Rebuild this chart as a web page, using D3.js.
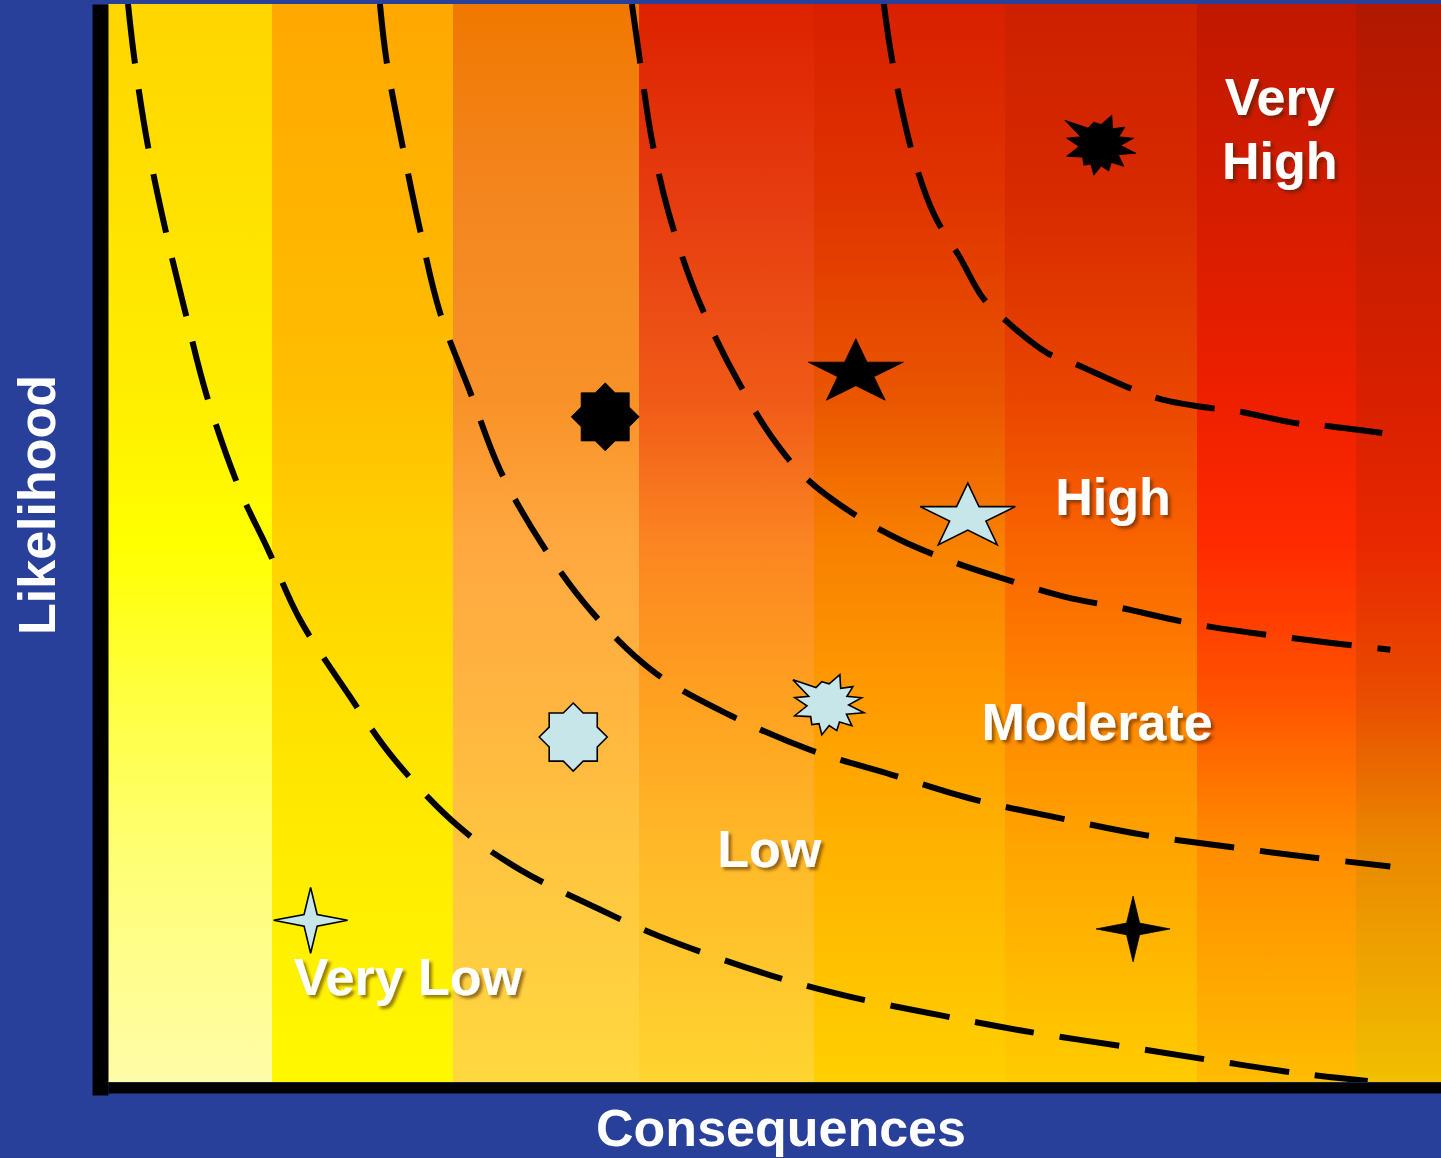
<!DOCTYPE html>
<html>
<head>
<meta charset="utf-8">
<script src="https://cdn.jsdelivr.net/npm/d3@7"></script>
<style>
  html, body { margin: 0; padding: 0; background: #29409a; }
  svg { display: block; }
</style>
</head>
<body>
<svg id="chart" width="1441" height="1158"></svg>
<script>
// ---- Data (consequence and likelihood both on a 0–100 scale) ----

// Consequence bands, each shaded with its own vertical gradient
const bandEdges = [0, 12.3, 25.9, 39.8, 53.0, 67.3, 81.7, 93.6, 100];

// Iso-risk boundaries as [consequence, likelihood] pairs
const boundaryVeryLowLow = [
  [1.5, 100], [2.0, 94.7], [3.0, 86.8], [4.3, 79.1], [5.8, 71.4], [7.4, 63.7],
  [9.9, 54.9], [12.0, 49.4], [14.4, 42.9], [17.8, 36.4], [21.5, 29.9], [26.4, 23.6],
  [30.9, 19.7], [36.9, 16.0], [41.4, 13.5], [49.7, 9.9], [55.7, 7.9], [62.4, 6.2],
  [68.4, 4.8], [76.7, 3.2], [83.4, 1.9], [89.4, 0.8], [94.5, 0.1]
];
const boundaryLowModerate = [
  [20.4, 100], [20.9, 94.7], [22.1, 86.8], [23.4, 79.1], [24.9, 71.4], [27.2, 63.9],
  [29.4, 56.8], [32.6, 49.8], [36.3, 43.6], [41.0, 38.0], [46.7, 34.0], [52.7, 30.8],
  [58.8, 28.5], [65.0, 26.2], [71.3, 24.5], [77.8, 22.9], [84.2, 21.8], [90.5, 20.8],
  [96.2, 20.0]
];
const boundaryModerateHigh = [
  [39.3, 100], [39.9, 94.8], [40.8, 87.4], [42.0, 80.9], [43.7, 74.4], [45.4, 69.5],
  [47.4, 64.7], [49.7, 60.0], [52.3, 56.1], [55.8, 52.8], [59.4, 50.3], [63.5, 48.2],
  [66.9, 46.8], [71.8, 45.0], [75.9, 44.0], [81.9, 42.4], [88.7, 41.2], [96.2, 40.1]
];
const boundaryHighVeryHigh = [
  [58.2, 100], [58.7, 95.7], [59.4, 91.1], [60.5, 85.5], [62.0, 80.4], [63.9, 76.5],
  [65.6, 72.8], [67.1, 70.9], [70.5, 67.6], [72.4, 66.7], [76.4, 64.5], [79.1, 63.3],
  [82.8, 62.5], [84.8, 62.2], [89.2, 61.1], [91.1, 60.9], [95.6, 60.2]
];

// Risk zone names and where they sit
const zoneNames = ["Very Low", "Low", "Moderate", "High", "Very|High"];
const zoneConsequence = [22.5, 49.6, 74.2, 75.4, 87.9];
const zoneLikelihood = [8.1, 19.9, 31.7, 52.6, 89.7];

// Individual risks
const riskShape = ["star4", "star4", "star8", "star8", "star5", "star5", "burst", "burst"];
const riskTone = ["light", "dark", "light", "dark", "dark", "light", "light", "dark"];
const riskConsequence = [15.2, 76.9, 34.9, 37.3, 56.1, 64.5, 54.0, 74.4];
const riskLikelihood = [15.0, 14.2, 32.0, 61.7, 65.8, 52.4, 35.0, 86.9];

// Axis titles
const xTitle = "Consequences";
const yTitle = "Likelihood";

// ---- Styling ----
const bandPalette = [
  ["#ffd500", "#ffe100", "#ffee00", "#ffff00", "#ffff40", "#ffff72", "#fffca8"],
  ["#ffa800", "#ffb300", "#ffbf00", "#ffd200", "#ffe000", "#ffeb00", "#fff800"],
  ["#f07800", "#f48620", "#f89228", "#ffa840", "#ffb440", "#ffc440", "#ffd840"],
  ["#dd2200", "#e63c10", "#f05a18", "#fb8522", "#ffa020", "#ffb828", "#ffd430"],
  ["#d82000", "#e03400", "#ea5600", "#f88000", "#ff9a00", "#ffb200", "#ffd000"],
  ["#cc2000", "#d82a00", "#ea4600", "#f96400", "#ff8400", "#ffa400", "#ffcc00"],
  ["#c01800", "#d41c00", "#ee2000", "#ff2a00", "#ff5200", "#ff8c00", "#ffbc00"],
  ["#b01800", "#c41c00", "#d82000", "#e82800", "#e84c00", "#ea8800", "#f0c000"]
];
const bandOffsets = [0, 0.18, 0.367, 0.5, 0.64, 0.78, 1];
const lightFill = "#c6e6ea";
const fontFamily = "'Liberation Sans', Arial, Helvetica, sans-serif";

// ---- Scales ----
const svg = d3.select("#chart");
const x = d3.scaleLinear().domain([0, 100]).range([108, 1441]);
const y = d3.scaleLinear().domain([0, 100]).range([1082, 4]);

const defs = svg.append("defs");

// One gradient per consequence band
bandPalette.forEach((cols, i) => {
  const g = defs.append("linearGradient")
    .attr("id", "band" + i)
    .attr("x1", 0).attr("y1", 0).attr("x2", 0).attr("y2", 1);
  cols.forEach((c, k) => g.append("stop").attr("offset", bandOffsets[k]).attr("stop-color", c));
});

// Soft drop shadow behind the zone names
const shadow = defs.append("filter").attr("id", "shadow")
  .attr("x", "-10%").attr("y", "-10%").attr("width", "130%").attr("height", "140%");
shadow.append("feDropShadow")
  .attr("dx", 3).attr("dy", 3).attr("stdDeviation", 1.6)
  .attr("flood-color", "#4a1e00").attr("flood-opacity", 0.55);

defs.append("clipPath").attr("id", "plotClip")
  .append("rect")
  .attr("x", x(0)).attr("y", y(100))
  .attr("width", x(100) - x(0)).attr("height", y(0) - y(100));

// ---- Bands ----
const bands = d3.pairs(bandEdges);
svg.append("g").selectAll("rect")
  .data(bands)
  .join("rect")
  .attr("x", d => x(d[0]))
  .attr("y", y(100))
  .attr("width", d => x(d[1]) - x(d[0]))
  .attr("height", y(0) - y(100))
  .attr("fill", (d, i) => `url(#band${i})`)
  .attr("shape-rendering", "crispEdges");

// ---- Iso-risk boundaries ----
const line = d3.line()
  .x(d => x(d[0]))
  .y(d => y(d[1]))
  .curve(d3.curveCatmullRom.alpha(0.5));

svg.append("g")
  .attr("clip-path", "url(#plotClip)")
  .selectAll("path")
  .data([boundaryVeryLowLow, boundaryLowModerate, boundaryModerateHigh, boundaryHighVeryHigh])
  .join("path")
  .attr("d", line)
  .attr("fill", "none")
  .attr("stroke", "#000")
  .attr("stroke-width", 6)
  .attr("stroke-dasharray", "60 26");

// ---- Risk symbols ----
function starType(points, inner, aspect) {
  return {
    draw(ctx, size) {
      const r = Math.sqrt(size);
      for (let i = 0; i < 2 * points; i++) {
        const a = -Math.PI / 2 + i * Math.PI / points;
        const rr = i % 2 ? r * inner : r;
        const px = rr * Math.cos(a), py = rr * Math.sin(a) * aspect;
        if (i) ctx.lineTo(px, py); else ctx.moveTo(px, py);
      }
      ctx.closePath();
    }
  };
}

// Explosion outline: spike angles (degrees) and relative lengths
const burstSpikes = [
  [215.5, 1.19], [255.4, 0.66], [291.8, 0.90], [324.2, 0.86], [348.4, 0.96], [372.5, 1.03],
  [401.2, 0.89], [430.9, 0.76], [461.3, 0.85], [488.7, 0.71], [521.6, 0.97], [552.0, 0.94]
];
const burstType = {
  draw(ctx, size) {
    const r = Math.sqrt(size);
    const rad = deg => deg * Math.PI / 180;
    burstSpikes.forEach((s, i) => {
      const a = rad(s[0]);
      const px = r * s[1] * Math.cos(a), py = r * s[1] * Math.sin(a);
      if (i) ctx.lineTo(px, py); else ctx.moveTo(px, py);
      const next = burstSpikes[(i + 1) % burstSpikes.length];
      let na = next[0];
      if (i === burstSpikes.length - 1) na += 360;
      const ma = rad((s[0] + na) / 2);
      ctx.lineTo(r * 0.58 * Math.cos(ma), r * 0.58 * Math.sin(ma));
    });
    ctx.closePath();
  }
};

const symbolDefs = {
  star4: { type: starType(4, 0.25, 0.89), r: 37 },
  star5: { type: starType(5, 0.382, 0.68), r: 50 },
  star8: { type: starType(8, 0.765, 1), r: 34 },
  burst: { type: burstType, r: 36 }
};

const risks = riskShape.map((s, i) => ({
  shape: s, tone: riskTone[i], c: riskConsequence[i], l: riskLikelihood[i]
}));

svg.append("g").selectAll("path")
  .data(risks)
  .join("path")
  .attr("transform", d => `translate(${x(d.c)},${y(d.l)})`)
  .attr("d", d => d3.symbol().type(symbolDefs[d.shape].type).size(symbolDefs[d.shape].r ** 2)())
  .attr("fill", d => d.tone === "light" ? lightFill : "#000")
  .attr("stroke", "#000")
  .attr("stroke-width", d => d.tone === "light" ? 1.6 : 0.8)
  .attr("stroke-linejoin", "miter");

// ---- Zone names ----
const zones = zoneNames.map((n, i) => ({ name: n, c: zoneConsequence[i], l: zoneLikelihood[i] }));
const zoneText = svg.append("g")
  .attr("font-family", fontFamily)
  .attr("font-weight", "bold")
  .attr("font-size", 52)
  .attr("fill", "#fff")
  .attr("text-anchor", "middle")
  .attr("filter", "url(#shadow)")
  .selectAll("text")
  .data(zones)
  .join("text")
  .attr("x", d => x(d.c))
  .attr("y", d => y(d.l));
zoneText.selectAll("tspan")
  .data(d => d.name.split("|").map(t => ({ t, c: d.c })))
  .join("tspan")
  .attr("x", d => x(d.c))
  .attr("dy", (d, i) => i ? 64 : 0)
  .text(d => d.t);

// ---- Axes (heavy black frame, no ticks) ----
const yFrame = y.copy().range([y(0) + 13, y(100)]);
svg.append("g")
  .attr("transform", `translate(${x(0) - 8},0)`)
  .call(d3.axisLeft(yFrame).tickValues([]).tickSizeOuter(0))
  .call(g => g.select(".domain").attr("stroke", "#000").attr("stroke-width", 16));

svg.append("g")
  .attr("transform", `translate(0,${y(0) + 5.5})`)
  .call(d3.axisBottom(x).tickValues([]).tickSizeOuter(0))
  .call(g => g.select(".domain").attr("stroke", "#000").attr("stroke-width", 11));

// ---- Axis titles ----
svg.append("text")
  .attr("x", 781).attr("y", 1146)
  .attr("text-anchor", "middle")
  .attr("font-family", fontFamily).attr("font-weight", "bold").attr("font-size", 52)
  .attr("fill", "#fff")
  .text(xTitle);

svg.append("text")
  .attr("transform", "translate(55,505) rotate(-90)")
  .attr("text-anchor", "middle")
  .attr("font-family", fontFamily).attr("font-weight", "bold").attr("font-size", 52)
  .attr("fill", "#fff")
  .text(yTitle);
</script>
</body>
</html>
